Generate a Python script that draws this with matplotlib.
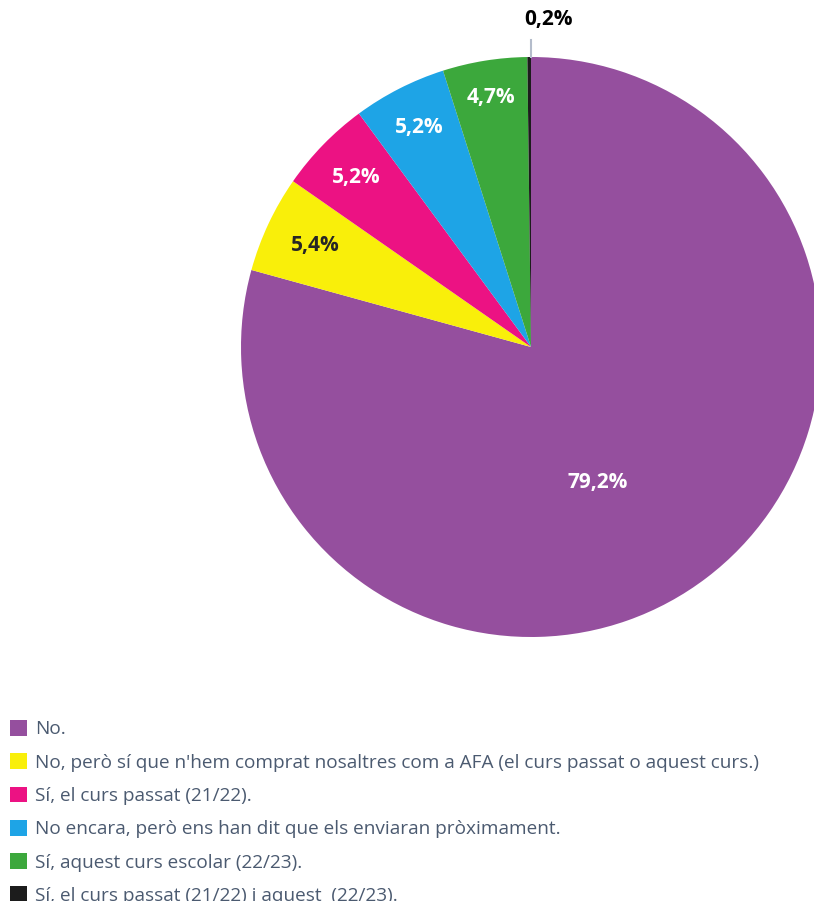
import numpy as np
import matplotlib.pyplot as plt

respostes = ['No.',
             "No, però sí que n'hem comprat nosaltres com a AFA (el curs passat o aquest curs.)",
             'Sí, el curs passat (21/22).',
             'No encara, però ens han dit que els enviaran pròximament.',
             'Sí, aquest curs escolar (22/23).',
             'Sí, el curs passat (21/22) i aquest  (22/23).']
percentatges = [79.2, 5.4, 5.2, 5.2, 4.7, 0.2]
colors = ['#954f9e', '#f9ef0a', '#ec1283', '#1ea4e6', '#3ca83c', '#1c1c1c']
text_colors = ['white', '#262626', 'white', 'white', 'white', 'black']
distancies = [0.52, 0.82, 0.84, 0.85, 0.87, 1.13]

fig = plt.figure(figsize=(8.14, 9.01), dpi=100)
W, H = 814, 901
cx, cy, r = 531, 347, 290
ax = fig.add_axes([(cx - r) / W, (H - cy - r) / H, 2 * r / W, 2 * r / H])

wedges, _ = ax.pie(percentatges, colors=colors, startangle=90, counterclock=False,
                   radius=1, wedgeprops=dict(linewidth=0))
ax.set_xlim(-1, 1)
ax.set_ylim(-1, 1)
ax.set_aspect('equal')
ax.axis('off')

for i, w in enumerate(wedges):
    ang = np.deg2rad((w.theta1 + w.theta2) / 2)
    if i == 0:
        ang = ang - np.deg2rad(11)
    d = distancies[i]
    x, y = d * np.cos(ang), d * np.sin(ang)
    if i == 5:
        x = 0.06
        ax.plot([0, 0], [1.0, 1.06], color='#b4bccb', lw=1.5, clip_on=False)
    ax.text(x, y, ('%.1f%%' % percentatges[i]).replace('.', ','), color=text_colors[i],
            ha='center', va='center', fontsize=15, fontweight='bold',
            family='Open Sans', clip_on=False)

leg = fig.legend(wedges, respostes, loc='upper left', bbox_to_anchor=(0.012, 0.201),
                 frameon=False, handlelength=0.9, handleheight=0.9, handletextpad=0.42,
                 labelspacing=0.78, borderaxespad=0.0, borderpad=0.0,
                 prop=dict(family='Open Sans', size=13.7))
for t in leg.get_texts():
    t.set_color('#4b5a70')

fig.savefig('out.png', dpi=100)
